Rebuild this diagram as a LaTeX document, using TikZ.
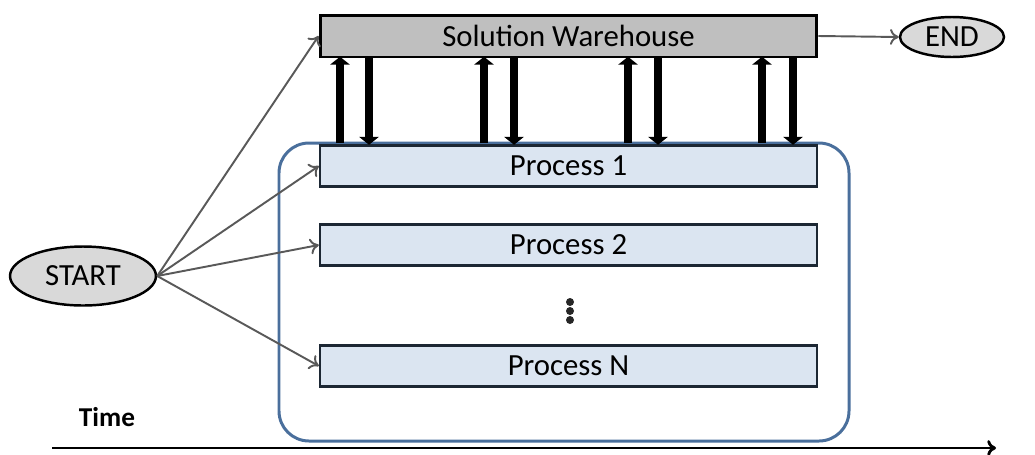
\documentclass[tikz,border=0pt]{standalone}
\usepackage{fontspec}
\setmainfont{Carlito}
\usepackage{tikz}
\usetikzlibrary{arrows.meta,shapes.geometric}
\definecolor{warefill}{HTML}{BFBFBF}
\definecolor{ovalfill}{HTML}{D9D9D9}
\definecolor{procfill}{HTML}{DBE5F1}
\definecolor{procline}{HTML}{1C2733}
\definecolor{poolline}{HTML}{4A6F9C}
\definecolor{flowline}{HTML}{595959}
\tikzset{
	warebox/.style={draw=black, line width=1.7pt, fill=warefill, minimum width=9.94cm, minimum height=0.84cm, inner sep=0pt, font=\fontsize{17.5}{19}\selectfont},
	procbox/.style={draw=procline, line width=1.4pt, fill=procfill, minimum width=9.94cm, minimum height=0.82cm, inner sep=0pt, font=\fontsize{17.5}{19}\selectfont},
	oval/.style={ellipse, draw=black, line width=1.4pt, fill=ovalfill, inner sep=0pt, font=\fontsize{17.5}{19}\selectfont},
	flow/.style={draw=flowline, line width=1.1pt, -{To[length=5pt,width=9pt]}},
	xfer/.style={draw=black, line width=5pt, -{Triangle[length=4.5pt,width=11pt]}, shorten >=-1pt}
}

\begin{document}
\begin{tikzpicture}[x=0.02cm, y=-0.02cm]
	\useasboundingbox (0,0) rectangle (1035,454);
	% warehouse and processes
	\node[warebox] (ware) at (568.5,36) {Solution Warehouse};
	\draw[poolline, line width=1.7pt, rounded corners=0.6cm] (279,143) rectangle (849,441);
	\coordinate (pooltop) at (568.5,143);
	\node[procbox] (p1) at (568.5,166) {Process 1};
	\node[procbox] (p2) at (568.5,245) {Process 2};
	\node[procbox] (pn) at (568.5,366) {Process N};
	\foreach \y in {302,311,320}
		\fill[black!85] (570,\y) circle (4);
	% start and end
	\node[oval, minimum width=2.92cm, minimum height=1.18cm] (start) at (83,276) {START};
	\node[oval, minimum width=2.08cm, minimum height=0.8cm] (end) at (952,37) {END};
	\draw[flow] (start.east) -- (ware.west);
	\draw[flow] (start.east) -- (p1.west);
	\draw[flow] (start.east) -- (p2.west);
	\draw[flow] (start.east) -- (pn.west);
	\draw[flow] (ware.east) -- (end.west);
	% exchange with the warehouse
	\foreach \u/\d in {340/369, 484/514, 628/658, 762/793} {
		\draw[xfer] (\u,0 |- pooltop) -- (\u,0 |- ware.south);
		\draw[xfer] (\d,0 |- ware.south) -- (\d,0 |- pooltop);
	}
	% time axis
	\node[font=\fontsize{15.5}{17}\selectfont\bfseries] (time) at (107,417) {Time};
	\coordinate (t0) at (52,448);
	\coordinate (t1) at (996,448);
	\draw[line width=1.6pt, -{To[length=5pt,width=9pt]}] (t0) -- (t1);
\end{tikzpicture}
\end{document}
